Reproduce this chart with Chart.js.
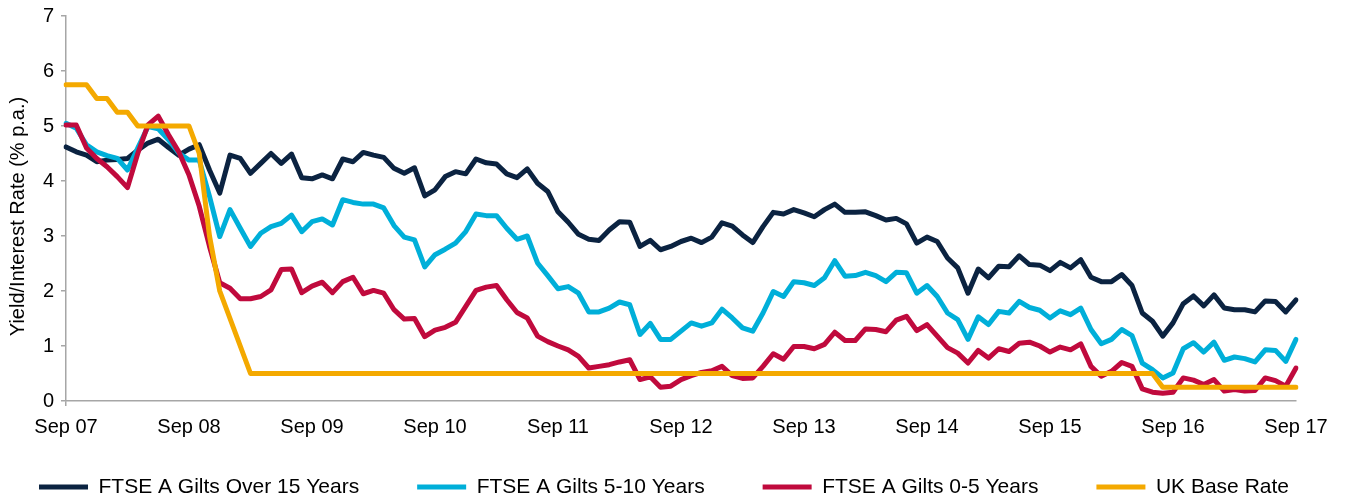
<!DOCTYPE html>
<html>
<head>
<meta charset="utf-8">
<title>UK gilt yields and base rate</title>
<script src="https://cdn.jsdelivr.net/npm/chart.js@4.4.1/dist/chart.umd.min.js"></script>
<style>
  html, body { margin: 0; padding: 0; background: #fff; }
</style>
</head>
<body>
<canvas id="yieldChart" width="1348" height="499"></canvas>
<script>
// monthly, Sep 07 .. Sep 17
const months = [
    'Sep 07', 'Oct 07', 'Nov 07', 'Dec 07',
    'Jan 08', 'Feb 08', 'Mar 08', 'Apr 08', 'May 08', 'Jun 08', 'Jul 08', 'Aug 08', 'Sep 08', 'Oct 08', 'Nov 08', 'Dec 08',
    'Jan 09', 'Feb 09', 'Mar 09', 'Apr 09', 'May 09', 'Jun 09', 'Jul 09', 'Aug 09', 'Sep 09', 'Oct 09', 'Nov 09', 'Dec 09',
    'Jan 10', 'Feb 10', 'Mar 10', 'Apr 10', 'May 10', 'Jun 10', 'Jul 10', 'Aug 10', 'Sep 10', 'Oct 10', 'Nov 10', 'Dec 10',
    'Jan 11', 'Feb 11', 'Mar 11', 'Apr 11', 'May 11', 'Jun 11', 'Jul 11', 'Aug 11', 'Sep 11', 'Oct 11', 'Nov 11', 'Dec 11',
    'Jan 12', 'Feb 12', 'Mar 12', 'Apr 12', 'May 12', 'Jun 12', 'Jul 12', 'Aug 12', 'Sep 12', 'Oct 12', 'Nov 12', 'Dec 12',
    'Jan 13', 'Feb 13', 'Mar 13', 'Apr 13', 'May 13', 'Jun 13', 'Jul 13', 'Aug 13', 'Sep 13', 'Oct 13', 'Nov 13', 'Dec 13',
    'Jan 14', 'Feb 14', 'Mar 14', 'Apr 14', 'May 14', 'Jun 14', 'Jul 14', 'Aug 14', 'Sep 14', 'Oct 14', 'Nov 14', 'Dec 14',
    'Jan 15', 'Feb 15', 'Mar 15', 'Apr 15', 'May 15', 'Jun 15', 'Jul 15', 'Aug 15', 'Sep 15', 'Oct 15', 'Nov 15', 'Dec 15',
    'Jan 16', 'Feb 16', 'Mar 16', 'Apr 16', 'May 16', 'Jun 16', 'Jul 16', 'Aug 16', 'Sep 16', 'Oct 16', 'Nov 16', 'Dec 16',
    'Jan 17', 'Feb 17', 'Mar 17', 'Apr 17', 'May 17', 'Jun 17', 'Jul 17', 'Aug 17', 'Sep 17'
];

const giltsOver15 = [
    4.62, 4.53, 4.47, 4.35, 4.38, 4.39, 4.41, 4.56, 4.69, 4.76, 4.61, 4.47, 4.58, 4.66, 4.20, 3.78,
    4.47, 4.41, 4.14, 4.32, 4.50, 4.32, 4.49, 4.06, 4.04, 4.11, 4.04, 4.40,
    4.35, 4.52, 4.47, 4.43, 4.23, 4.14, 4.24, 3.73, 3.84, 4.08, 4.17, 4.13,
    4.40, 4.33, 4.31, 4.13, 4.06, 4.22, 3.96, 3.81, 3.44, 3.25, 3.03, 2.94,
    2.92, 3.11, 3.26, 3.25, 2.81, 2.92, 2.75, 2.81, 2.90, 2.96, 2.88, 2.98,
    3.24, 3.18, 3.02, 2.88, 3.17, 3.43, 3.40, 3.48, 3.42, 3.35, 3.48, 3.58,
    3.43, 3.43, 3.44, 3.37, 3.29, 3.32, 3.22, 2.87, 2.98, 2.90, 2.60, 2.42,
    1.96, 2.40, 2.24, 2.45, 2.44, 2.64, 2.48, 2.47, 2.37, 2.52, 2.42, 2.57,
    2.25, 2.17, 2.17, 2.30, 2.10, 1.60, 1.45, 1.18, 1.42, 1.77, 1.91, 1.73,
    1.93, 1.69, 1.66, 1.66, 1.62, 1.82, 1.81, 1.62, 1.84
];

const gilts5to10 = [
    5.05, 4.96, 4.66, 4.53, 4.46, 4.41, 4.20, 4.60, 4.99, 4.95, 4.75, 4.51, 4.38, 4.38, 3.72, 2.99,
    3.48, 3.14, 2.81, 3.05, 3.17, 3.23, 3.38, 3.08, 3.26, 3.31, 3.20, 3.66,
    3.61, 3.58, 3.58, 3.51, 3.19, 2.98, 2.93, 2.44, 2.66, 2.76, 2.87, 3.08,
    3.40, 3.37, 3.37, 3.14, 2.94, 3.00, 2.51, 2.28, 2.04, 2.08, 1.96, 1.62,
    1.62, 1.69, 1.80, 1.75, 1.21, 1.41, 1.12, 1.12, 1.27, 1.42, 1.36, 1.42,
    1.67, 1.51, 1.33, 1.27, 1.60, 1.99, 1.90, 2.17, 2.15, 2.10, 2.24, 2.55,
    2.27, 2.28, 2.34, 2.28, 2.17, 2.34, 2.33, 1.96, 2.10, 1.90, 1.60, 1.48,
    1.12, 1.53, 1.39, 1.63, 1.60, 1.81, 1.70, 1.65, 1.51, 1.64, 1.57, 1.69,
    1.30, 1.04, 1.12, 1.30, 1.19, 0.69, 0.57, 0.42, 0.51, 0.95, 1.06, 0.89,
    1.07, 0.74, 0.80, 0.77, 0.71, 0.93, 0.92, 0.72, 1.12
];

const gilts0to5 = [
    5.02, 5.02, 4.60, 4.41, 4.26, 4.08, 3.88, 4.50, 5.02, 5.18, 4.84, 4.53, 4.11, 3.54, 2.81, 2.15,
    2.05, 1.86, 1.86, 1.90, 2.02, 2.39, 2.40, 1.97, 2.09, 2.16, 1.97, 2.17,
    2.25, 1.95, 2.01, 1.96, 1.66, 1.49, 1.50, 1.17, 1.29, 1.34, 1.43, 1.72,
    2.01, 2.07, 2.10, 1.84, 1.61, 1.51, 1.18, 1.08, 1.00, 0.93, 0.81, 0.60,
    0.63, 0.66, 0.71, 0.75, 0.39, 0.44, 0.25, 0.27, 0.39, 0.46, 0.52, 0.55,
    0.63, 0.46, 0.41, 0.42, 0.63, 0.86, 0.76, 0.99, 0.99, 0.95, 1.03, 1.25,
    1.10, 1.10, 1.31, 1.30, 1.26, 1.47, 1.54, 1.28, 1.39, 1.18, 0.97, 0.87,
    0.69, 0.92, 0.78, 0.95, 0.90, 1.05, 1.07, 1.00, 0.89, 0.98, 0.93, 1.04,
    0.63, 0.45, 0.54, 0.70, 0.63, 0.22, 0.16, 0.14, 0.16, 0.42, 0.38, 0.30,
    0.39, 0.18, 0.21, 0.18, 0.19, 0.42, 0.37, 0.27, 0.60
];

const baseRate = [
    5.75, 5.75, 5.75, 5.50, 5.50, 5.25, 5.25, 5.00, 5.00, 5.00, 5.00, 5.00, 5.00, 4.50, 3.00, 2.00,
    1.50, 1.00, 0.50, 0.50, 0.50, 0.50, 0.50, 0.50, 0.50, 0.50, 0.50, 0.50,
    0.50, 0.50, 0.50, 0.50, 0.50, 0.50, 0.50, 0.50, 0.50, 0.50, 0.50, 0.50,
    0.50, 0.50, 0.50, 0.50, 0.50, 0.50, 0.50, 0.50, 0.50, 0.50, 0.50, 0.50,
    0.50, 0.50, 0.50, 0.50, 0.50, 0.50, 0.50, 0.50, 0.50, 0.50, 0.50, 0.50,
    0.50, 0.50, 0.50, 0.50, 0.50, 0.50, 0.50, 0.50, 0.50, 0.50, 0.50, 0.50,
    0.50, 0.50, 0.50, 0.50, 0.50, 0.50, 0.50, 0.50, 0.50, 0.50, 0.50, 0.50,
    0.50, 0.50, 0.50, 0.50, 0.50, 0.50, 0.50, 0.50, 0.50, 0.50, 0.50, 0.50,
    0.50, 0.50, 0.50, 0.50, 0.50, 0.50, 0.50, 0.25, 0.25, 0.25, 0.25, 0.25,
    0.25, 0.25, 0.25, 0.25, 0.25, 0.25, 0.25, 0.25, 0.25
];

const seriesNames = ['FTSE A Gilts Over 15 Years', 'FTSE A Gilts 5-10 Years', 'FTSE A Gilts 0-5 Years', 'UK Base Rate'];
const yAxisTitle = 'Yield/Interest Rate (% p.a.)';

const axisGrey = '#a6a6a6';

Chart.defaults.font.family = "'Liberation Sans', Arial, sans-serif";
Chart.defaults.color = '#000';

// legend on one row, placed where the original has it; y title nudged down a bit
const chartTweaks = {
    id: 'chartTweaks',
    afterInit(chart) {
        const legend = chart.legend;
        const fit = legend.fit;
        legend.fit = function () {
            this.maxWidth = 1600;
            fit.call(this);
            this.height = 58;
        };
    },
    afterLayout(chart) {
        const legend = chart.legend;
        legend.left = 664 - 800;
        legend.right = 664 + 800;
        legend.width = 1600;
        legend.top = 418.5;
        legend.bottom = 499;
        legend.height = 80.5;
    },
    beforeDraw(chart) {
        const yScale = chart.scales.y;
        if (!yScale._titleShifted) {
            const drawTitle = yScale.drawTitle;
            yScale.drawTitle = function () {
                this.ctx.save();
                this.ctx.translate(0, 8);
                drawTitle.call(this);
                this.ctx.restore();
            };
            yScale._titleShifted = true;
        }
    }
};

function makeLine(label, data, color, order) {
    return {
        label: label,
        data: data,
        borderColor: color,
        backgroundColor: color,
        borderWidth: 5,
        borderCapStyle: 'round',
        borderJoinStyle: 'round',
        pointRadius: 0,
        pointHoverRadius: 0,
        tension: 0,
        fill: false,
        order: order
    };
}

const ctx = document.getElementById('yieldChart').getContext('2d');
new Chart(ctx, {
    type: 'line',
    data: {
        labels: months,
        datasets: [
            makeLine(seriesNames[0], giltsOver15, '#0b2341', 3),
            makeLine(seriesNames[1], gilts5to10, '#00afd9', 2),
            makeLine(seriesNames[2], gilts0to5, '#c00a3d', 1),
            makeLine(seriesNames[3], baseRate, '#f4a900', 0)
        ]
    },
    plugins: [chartTweaks],
    options: {
        responsive: false,
        animation: false,
        layout: { padding: { left: 0, right: 0, top: 0, bottom: 0 } },
        plugins: {
            tooltip: { enabled: false },
            legend: {
                position: 'bottom',
                labels: {
                    usePointStyle: true,
                    pointStyle: 'line',
                    pointStyleWidth: 49,
                    padding: 58,
                    color: '#000',
                    font: { size: 21 },
                    sort: (a, b) => a.datasetIndex - b.datasetIndex
                }
            }
        },
        scales: {
            x: {
                type: 'category',
                grid: {
                    display: true,
                    drawOnChartArea: false,
                    drawTicks: true,
                    tickLength: 5,
                    lineWidth: 1.5,
                    color: (c) => (c.index % 12 === 0 ? axisGrey : 'rgba(0,0,0,0)')
                },
                border: { display: true, color: axisGrey, width: 1.5 },
                ticks: {
                    autoSkip: false,
                    maxRotation: 0,
                    padding: 9,
                    color: '#000',
                    font: { size: 20 },
                    callback: function (value, index) {
                        return index % 12 === 0 ? this.getLabelForValue(value) : null;
                    }
                },
                afterFit(scale) {
                    scale.height = 40;
                    scale.paddingLeft = 0;
                    scale.paddingRight = 52;
                }
            },
            y: {
                min: 0,
                max: 7,
                grid: {
                    display: true,
                    drawOnChartArea: false,
                    drawTicks: true,
                    tickLength: 5,
                    lineWidth: 1.5,
                    color: axisGrey
                },
                border: { display: true, color: axisGrey, width: 1.5 },
                ticks: {
                    stepSize: 1,
                    padding: 7,
                    color: '#000',
                    font: { size: 20 }
                },
                title: {
                    display: true,
                    text: yAxisTitle,
                    color: '#000',
                    font: { size: 20 },
                    padding: { top: 6, bottom: 0 }
                },
                afterFit(scale) {
                    scale.width = 66;
                    scale.paddingTop = 16;
                    scale.paddingBottom = 0;
                }
            }
        }
    }
});
</script>
</body>
</html>
